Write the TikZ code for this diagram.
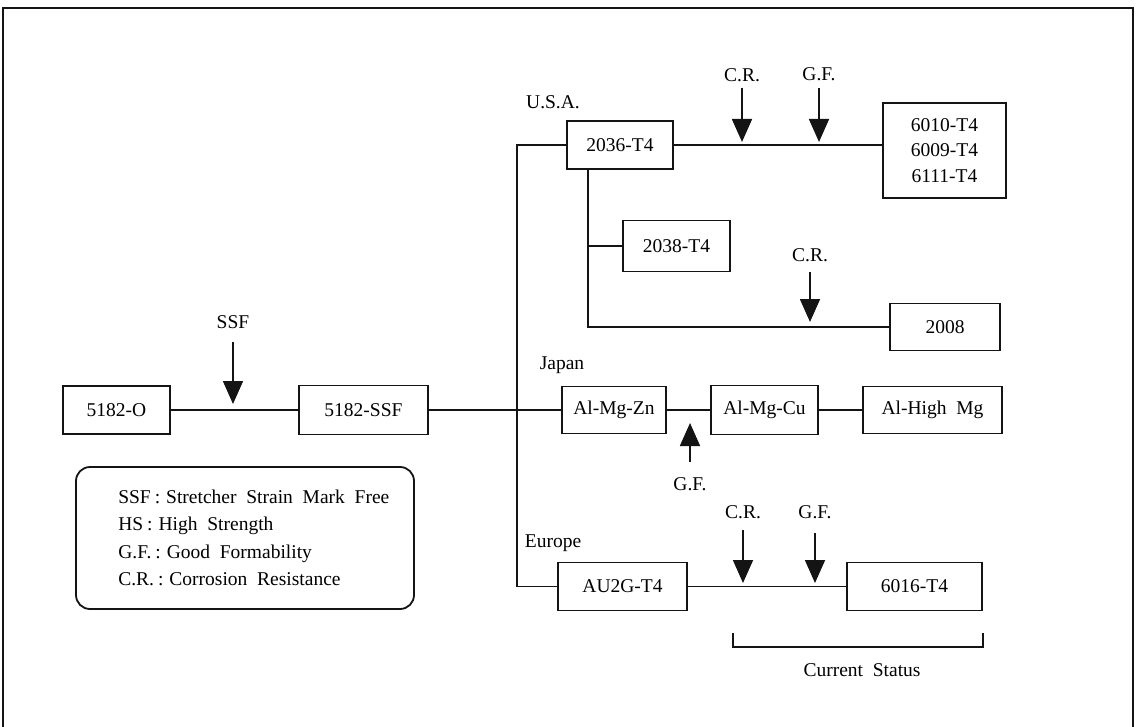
\documentclass[tikz,border=0pt]{standalone}
\usepackage{fontspec}
\setmainfont{Liberation Serif}
\usetikzlibrary{arrows.meta,positioning,calc}
\definecolor{ink}{HTML}{141414}

\begin{document}
\begin{tikzpicture}[x=1pt,y=-1pt,
    alloy/.style={draw=ink,line width=1.8pt,inner sep=0pt,align=center,
                  font=\fontsize{19.5}{25.5}\selectfont},
    tag/.style={inner sep=1pt,font=\fontsize{19.5}{22}\selectfont},
    link/.style={ink,line width=1.6pt},
    flag/.style={ink,line width=1.6pt,-{Triangle[length=23pt,width=20pt]}}]
    \useasboundingbox (0,0) rectangle (1142,727);
    % Page frame, open at the bottom as in the scan.
    \draw[ink,line width=2pt] (3,727) -- (3,8) -- (1133,8) -- (1133,727);

    % Starting grades on the left.
    \node[alloy,minimum width=107pt,minimum height=48pt] (o5182) at (116.5,410) {5182-O};
    \node[alloy,minimum width=129pt,minimum height=49pt] (ssf5182) at (363.5,410) {5182-SSF};

    % U.S.A. branch.
    \node[alloy,minimum width=106pt,minimum height=48pt] (t2036) at (620,145) {2036-T4};
    \node[alloy,minimum width=123pt,minimum height=95pt] (t6010) at (944.5,150.5)
      {6010-T4\\6009-T4\\6111-T4};
    \node[alloy,minimum width=107pt,minimum height=51pt] (t2038) at (676.5,246) {2038-T4};
    \node[alloy,minimum width=110pt,minimum height=47pt] (a2008) at (945,327) {2008};

    % Japan branch.
    \node[alloy,minimum width=104pt,minimum height=47pt] (zn) at (614,410) {Al-Mg-Zn};
    \node[alloy,minimum width=107pt,minimum height=49pt] (cu) at (764.5,410) {Al-Mg-Cu};
    \node[alloy,minimum width=139pt,minimum height=47pt] (highmg) at (932.5,410) {Al-High\ \ Mg};

    % Europe branch.
    \node[alloy,minimum width=129pt,minimum height=48pt] (au2g) at (622.5,586.5) {AU2G-T4};
    \node[alloy,minimum width=135pt,minimum height=48pt] (t6016) at (914.5,586.5) {6016-T4};

    \node[tag] (usalab) at (553,102) {U.S.A.};
    \node[tag] (japanlab) at (562,365) {Japan};
    \node[tag] (europelab) at (553,543) {Europe};

    % Connecting lines.
    \draw[link] (o5182) -- (ssf5182);
    \draw[link] (ssf5182) -- (zn);
    \draw[link] (t2036.west) -- ++(-49,0) coordinate (trunk) -- (trunk |- au2g.west) -- (au2g.west);
    \draw[link] (t2036.east) -- (t2036.east -| t6010.west);
    \draw[link] ([xshift=-32pt]t2036.south) coordinate (drop) |- (a2008.west);
    \draw[link] (t2038.west) -- (t2038.west -| drop);
    \draw[link] (zn) -- (cu);
    \draw[link] (cu) -- (highmg);
    \draw[link] (au2g) -- (t6016);

    % Property arrows.
    \coordinate (ssftail) at (233,342);  \coordinate (ssftip) at (233,404);
    \draw[flag] (ssftail) -- (ssftip);
    \node[tag,above=12pt of ssftail] (ssflab) {SSF};

    \coordinate (crusatail) at (742,88);  \coordinate (crusatip) at (742,142);
    \draw[flag] (crusatail) -- (crusatip);
    \node[tag,above=5pt of crusatail] (crusalab) {C.R.};
    \coordinate (gfusatail) at (819,88);  \coordinate (gfusatip) at (819,142);
    \draw[flag] (gfusatail) -- (gfusatip);
    \node[tag,above=6pt of gfusatail] (gfusalab) {G.F.};

    \coordinate (crtail) at (810,272);  \coordinate (crtip) at (810,322);
    \draw[flag] (crtail) -- (crtip);
    \node[tag,above=9pt of crtail] (crlab) {C.R.};

    \coordinate (gfjptail) at (690,462);  \coordinate (gfjptip) at (690,423);
    \draw[flag] (gfjptail) -- (gfjptip);
    \node[tag,below=14pt of gfjptail] (gfjplab) {G.F.};

    \coordinate (creutail) at (743,530);  \coordinate (creutip) at (743,583);
    \draw[flag] (creutail) -- (creutip);
    \node[tag,above=10pt of creutail] (creulab) {C.R.};
    \coordinate (gfeutail) at (815,533);  \coordinate (gfeutip) at (815,583);
    \draw[flag] (gfeutail) -- (gfeutip);
    \node[tag,above=13pt of gfeutail] (gfeulab) {G.F.};

    % Current status bracket.
    \coordinate (csleft) at (733,633);  \coordinate (csright) at (983,633);
    \draw[link] (csleft) -- ++(0,14) -| (csright);
    \node[tag] (cslab) at (862,670) {Current\ \ Status};

    % Legend.
    \node[draw=ink,line width=1.8pt,rounded corners=14pt,minimum width=338pt,
          minimum height=142pt] (legend) at (245,538) {};
    \node[tag,anchor=west,align=left,
          font={\fontsize{19.5}{27.3}\selectfont\spaceskip=.5em\relax}]
          (legendtext) at ([xshift=42pt]legend.west)
          {SSF\kern4pt:\kern6pt Stretcher Strain Mark Free\\
           HS\kern4pt:\kern6pt High Strength\\
           G.F.\kern4pt:\kern6pt Good Formability\\
           C.R.\kern4pt:\kern6pt Corrosion Resistance};
  \end{tikzpicture}
\end{document}
